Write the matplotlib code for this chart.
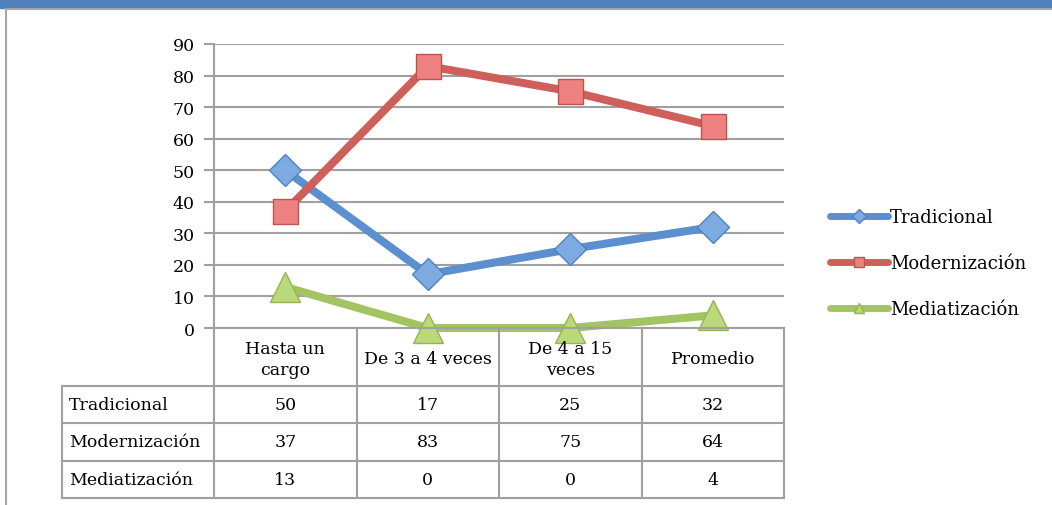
import matplotlib.pyplot as plt
from matplotlib.lines import Line2D

plt.rcParams['font.family'] = ['DejaVu Serif']

categories = ['Hasta un\ncargo', 'De 3 a 4 veces', 'De 4 a 15\nveces', 'Promedio']
series_names = ['Tradicional', 'Modernización', 'Mediatización']
tradicional = [50, 17, 25, 32]
modernizacion = [37, 83, 75, 64]
mediatizacion = [13, 0, 0, 4]
y_ticks = [0, 10, 20, 30, 40, 50, 60, 70, 80, 90]

series = [tradicional, modernizacion, mediatizacion]
line_colors = ['#5B8FCF', '#CF5F5B', '#A3C463']
face_colors = ['#7EAAE2', '#EE8280', '#BAD97A']
edge_colors = ['#4F82C0', '#C05350', '#94B552']
markers = ['D', 's', '^']
msizes = [16, 18, 21]

W, H = 1052, 506
fig = plt.figure(figsize=(W / 100, H / 100), dpi=100)

def fx(px):
    return px / W

def fy(py):
    return 1 - py / H

# frame: blue top band, gray border
fig.patches.append(plt.Rectangle((0, fy(9)), 1, 9 / H, transform=fig.transFigure,
                                 color='#4F81BD', zorder=0))
fig.add_artist(Line2D([fx(6), 1], [fy(10), fy(10)], color='#A6A6A6', lw=1.5))
fig.add_artist(Line2D([fx(6), fx(6)], [fy(10), 0], color='#A6A6A6', lw=1.5))

x0, x1 = 214, 784
ytop, ybot = 45, 329
ax = fig.add_axes([fx(x0), fy(ybot), (x1 - x0) / W, (ybot - ytop) / H])
ax.set_xlim(-0.5, 3.5)
ax.set_ylim(0, 90)
ax.set_yticks(y_ticks)
ax.set_xticks([])
for s in ['top', 'right', 'bottom']:
    ax.spines[s].set_visible(False)
ax.spines['left'].set_color('#A0A0A0')
ax.spines['left'].set_linewidth(1.5)
ax.tick_params(axis='y', length=7, width=1.5, color='#A0A0A0', labelsize=12.5, pad=7)
ax.grid(axis='y', color='#A0A0A0', lw=1.5)
ax.set_axisbelow(True)

xs = range(len(categories))
for vals, name, lc, fc, ec, m, ms in zip(series, series_names, line_colors,
                                         face_colors, edge_colors, markers, msizes):
    ax.plot(xs, vals, color=lc, lw=5.8, marker=m, ms=ms, mfc=fc, mec=ec, mew=1,
            solid_capstyle='round', clip_on=False, zorder=3)

# legend
handles = [Line2D([], [], color=lc, lw=5, marker=m, ms=7, mfc=fc, mec=ec,
                  solid_capstyle='round')
           for lc, fc, ec, m in zip(line_colors, face_colors, edge_colors, markers)]
fig.legend(handles, series_names, loc='center left',
           bbox_to_anchor=(fx(814), fy(264)), frameon=False, fontsize=13,
           handlelength=3.2, handletextpad=0.1, labelspacing=1.55)

# data table
tab = fig.add_axes([0, 0, 1, 1])
tab.set_xlim(0, W)
tab.set_ylim(H, 0)
tab.axis('off')
gc = '#A0A0A0'
col_edges = [x0 + i * (x1 - x0) / 4 for i in range(5)]
row_edges = [329, 387, 424, 462, 499]
lab_x = 62
for i, y in enumerate(row_edges):
    tab.plot([lab_x if i >= 1 else x0, x1], [y, y], color=gc, lw=1.5)
tab.plot([lab_x, lab_x], [row_edges[1], row_edges[-1]], color=gc, lw=1.5)
for cx in col_edges:
    tab.plot([cx, cx], [row_edges[0], row_edges[-1]], color=gc, lw=1.5)
for j, c in enumerate(categories):
    cx = (col_edges[j] + col_edges[j + 1]) / 2
    tab.text(cx, (row_edges[0] + row_edges[1]) / 2 + 2, c, ha='center', va='center',
             fontsize=12.5, linespacing=1.3)
for i, (name, vals) in enumerate(zip(series_names, series)):
    cy = (row_edges[i + 1] + row_edges[i + 2]) / 2
    tab.text(lab_x + 7, cy, name, ha='left', va='center', fontsize=12.5)
    for j, v in enumerate(vals):
        cx = (col_edges[j] + col_edges[j + 1]) / 2
        tab.text(cx, cy, str(v), ha='center', va='center', fontsize=12.5)

fig.savefig('out.png', dpi=100)
